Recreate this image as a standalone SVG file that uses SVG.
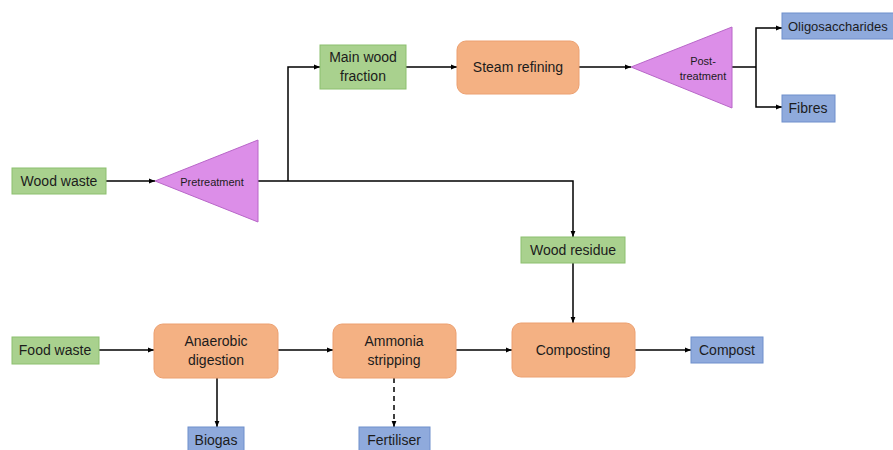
<svg xmlns="http://www.w3.org/2000/svg" width="893" height="450" viewBox="0 0 893 450">
<defs>
<marker id="ah" viewBox="0 0 10 10" refX="10" refY="5" markerWidth="6" markerHeight="6" orient="auto" markerUnits="userSpaceOnUse">
<path d="M0,1 L10,5 L0,9 z" fill="#000"/>
</marker>
<style>
.g{fill:#a9d18e;stroke:#8cbf6e;stroke-width:1}
.o{fill:#f4b183;stroke:#eca070;stroke-width:1}
.p{fill:#dc8ee8;stroke:#b867c8;stroke-width:1}
.b{fill:#8faadc;stroke:#6f8fcc;stroke-width:1}
text{font-family:"Liberation Sans",Arial,sans-serif;font-size:14px;fill:#1c1c1c;text-anchor:middle;dominant-baseline:central}
.s{font-size:11px}
.c line,.c polyline{stroke:#000;stroke-width:1.5;fill:none;marker-end:url(#ah)}
.c .n{marker-end:none}
.c .d{stroke-dasharray:5,4}
</style>
</defs>
<rect width="893" height="450" fill="#fff"/>
<g class="c" id="connectors">
<line x1="106" y1="181" x2="155" y2="181"/>
<polyline class="n" points="258,181 288,181"/>
<polyline points="288,181 288,67 320,67"/>
<polyline points="288,181 573,181 573,237"/>
<line x1="406" y1="67" x2="457" y2="67"/>
<line x1="579" y1="67" x2="631" y2="67"/>
<polyline class="n" points="732,67 756,67"/>
<polyline points="756,67 756,28 782,28"/>
<polyline points="756,67 756,107 782,107"/>
<line x1="573" y1="263" x2="573" y2="323"/>
<line x1="99" y1="350" x2="154" y2="350"/>
<line x1="278" y1="350" x2="333" y2="350"/>
<line x1="456" y1="350" x2="512" y2="350"/>
<line x1="635" y1="350" x2="691" y2="350"/>
<line x1="217" y1="378" x2="217" y2="427"/>
<line class="d" x1="394" y1="378" x2="394" y2="427"/>
</g>
<g id="wood-waste"><rect class="g" x="12" y="168" width="94" height="26"/><text x="59" y="181">Wood waste</text></g>
<g id="pretreatment"><polygon class="p" points="155,181 258,140 258,222"/><text class="s" x="212" y="182">Pretreatment</text></g>
<g id="main-wood"><rect class="g" x="320" y="45" width="86" height="44"/><text x="363" y="57">Main wood</text><text x="363" y="76">fraction</text></g>
<g id="steam"><rect class="o" x="457" y="41" width="122" height="53" rx="9"/><text x="518" y="67">Steam refining</text></g>
<g id="post"><polygon class="p" points="631,67 732,27 732,108"/><text class="s" x="703" y="61">Post-</text><text class="s" x="703" y="76">treatment</text></g>
<g id="oligo"><rect class="b" x="782" y="13" width="114" height="26"/><text x="788" y="26" style="text-anchor:start;font-size:13px">Oligosaccharides</text></g>
<g id="fibres"><rect class="b" x="782" y="95" width="53" height="27"/><text x="808" y="108">Fibres</text></g>
<g id="wood-residue"><rect class="g" x="521" y="237" width="104" height="26"/><text x="573" y="250">Wood residue</text></g>
<g id="food-waste"><rect class="g" x="12" y="337" width="87" height="27"/><text x="55" y="350">Food waste</text></g>
<g id="anaerobic"><rect class="o" x="154" y="324" width="124" height="54" rx="9"/><text x="216" y="341">Anaerobic</text><text x="216" y="360">digestion</text></g>
<g id="ammonia"><rect class="o" x="333" y="324" width="123" height="54" rx="9"/><text x="394" y="341">Ammonia</text><text x="394" y="360">stripping</text></g>
<g id="composting"><rect class="o" x="512" y="323" width="123" height="54" rx="9"/><text x="573" y="350">Composting</text></g>
<g id="compost"><rect class="b" x="691" y="337" width="72" height="26"/><text x="727" y="350">Compost</text></g>
<g id="biogas"><rect class="b" x="188" y="427" width="56" height="26"/><text x="216" y="440">Biogas</text></g>
<g id="fertiliser"><rect class="b" x="359" y="427" width="71" height="26"/><text x="394" y="440">Fertiliser</text></g>
</svg>
